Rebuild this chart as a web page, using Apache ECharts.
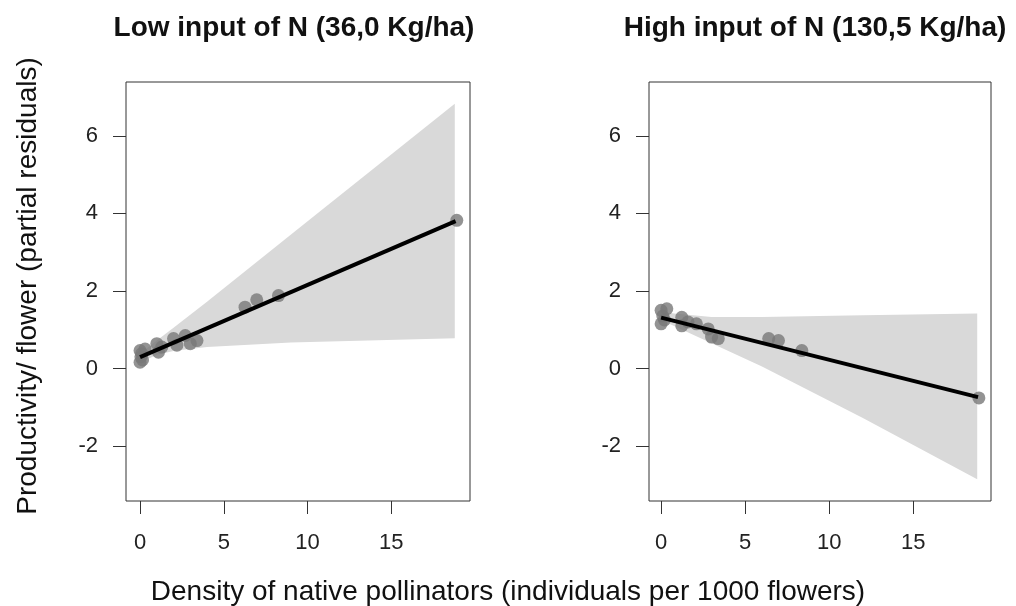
<!DOCTYPE html>
<html><head><meta charset="utf-8">
<script src="https://cdn.jsdelivr.net/npm/echarts@6/dist/echarts.min.js"></script>
<style>html,body{margin:0;padding:0;background:#fff}#c{width:1016px;height:606px}</style>
</head><body><div id="c"></div>
<script>
// ---- data ----
const panelTitles = ['Low input of N (36,0 Kg/ha)', 'High input of N (130,5 Kg/ha)'];
const xTitle = 'Density of native pollinators (individuals per 1000 flowers)';
const yTitle = 'Productivity/ flower (partial residuals)';
const xTicks = [0, 5, 10, 15];
const yTicks = [-2, 0, 2, 4, 6];

const lowPoints = [[0,0.46],[0,0.16],[0.05,0.3],[0.1,0.38],[0.3,0.5],[0.15,0.22],[1.0,0.64],[1.1,0.42],[1.3,0.55],[2.0,0.77],[2.2,0.6],[2.7,0.85],[3.0,0.64],[3.4,0.72],[6.27,1.58],[6.97,1.77],[8.27,1.88],[18.92,3.82]];
const lowFit = [[0,0.29],[18.85,3.8]];
const lowBandX = [0, 1, 2, 4, 9, 18.8];
const lowBandUpper = [0.38, 0.72, 1.05, 1.72, 3.45, 6.83];
const lowBandLower = [0.15, 0.35, 0.45, 0.55, 0.67, 0.78];

const highPoints = [[0,1.5],[0,1.15],[0.1,1.35],[0.34,1.54],[0.2,1.25],[1.23,1.32],[1.23,1.1],[1.6,1.2],[2.1,1.15],[2.8,1.02],[3.0,0.81],[3.4,0.77],[6.4,0.77],[6.98,0.72],[8.37,0.46],[18.9,-0.76]];
const highFit = [[0,1.31],[18.85,-0.74]];
const highBandX = [0, 3, 6, 12, 18.8];
const highBandUpper = [1.45, 1.33, 1.33, 1.37, 1.42];
const highBandLower = [1.25, 0.65, 0.05, -1.28, -2.86];

// ---- chart ----
const FONT = '"Liberation Sans", Arial, sans-serif';
const chart = echarts.init(document.getElementById('c'));

function bandSeries(idx, bx, up, lo) {
  return {
    type: 'custom', xAxisIndex: idx, yAxisIndex: idx, z: 1, silent: true,
    data: [0],
    renderItem: function (params, api) {
      const pts = [];
      for (let i = 0; i < bx.length; i++) pts.push(api.coord([bx[i], up[i]]));
      for (let i = bx.length - 1; i >= 0; i--) pts.push(api.coord([bx[i], lo[i]]));
      return { type: 'polygon', shape: { points: pts }, style: { fill: '#d9d9d9' } };
    }
  };
}
function xAxis(idx, min, max) {
  return {
    type: 'value', gridIndex: idx, min: min, max: max,
    splitLine: { show: false },
    axisLine: { show: false, onZero: false },
    axisTick: { show: true, length: 13, lineStyle: { color: '#333', width: 1 }, customValues: xTicks },
    axisLabel: { customValues: xTicks, margin: 31, fontSize: 22, color: '#222', fontFamily: FONT }
  };
}
function yAxis(idx) {
  return {
    type: 'value', gridIndex: idx, min: -3.42, max: 7.39,
    splitLine: { show: false },
    axisLine: { show: false, onZero: false },
    axisTick: { show: true, length: 13, lineStyle: { color: '#333', width: 1 }, customValues: yTicks },
    axisLabel: { customValues: yTicks, margin: 28, fontSize: 22, color: '#222', fontFamily: FONT }
  };
}

const option = {
  backgroundColor: '#fff',
  animation: false,
  grid: [
    { left: 126, top: 82, width: 344, height: 419, show: true, borderColor: '#333', borderWidth: 1, backgroundColor: 'transparent' },
    { left: 649, top: 82, width: 342, height: 419, show: true, borderColor: '#333', borderWidth: 1, backgroundColor: 'transparent' }
  ],
  xAxis: [xAxis(0, -0.84, 19.71), xAxis(1, -0.72, 19.62)],
  yAxis: [yAxis(0), yAxis(1)],
  series: [
    bandSeries(0, lowBandX, lowBandUpper, lowBandLower),
    bandSeries(1, highBandX, highBandUpper, highBandLower),
    { type: 'scatter', xAxisIndex: 0, yAxisIndex: 0, z: 2, data: lowPoints, symbolSize: 13, itemStyle: { color: '#787878' }, silent: true },
    { type: 'scatter', xAxisIndex: 1, yAxisIndex: 1, z: 2, data: highPoints, symbolSize: 13, itemStyle: { color: '#787878' }, silent: true },
    { type: 'line', xAxisIndex: 0, yAxisIndex: 0, z: 3, data: lowFit, showSymbol: false, lineStyle: { color: '#000', width: 4 }, silent: true },
    { type: 'line', xAxisIndex: 1, yAxisIndex: 1, z: 3, data: highFit, showSymbol: false, lineStyle: { color: '#000', width: 4 }, silent: true }
  ],
  graphic: [
    { type: 'text', style: { x: 294, y: 28.5, text: panelTitles[0], font: 'bold 28px ' + FONT, fill: '#111', align: 'center', verticalAlign: 'middle' } },
    { type: 'text', style: { x: 815, y: 28.5, text: panelTitles[1], font: 'bold 28px ' + FONT, fill: '#111', align: 'center', verticalAlign: 'middle' } },
    { type: 'text', style: { x: 508, y: 592.5, text: xTitle, font: '28px ' + FONT, fill: '#111', align: 'center', verticalAlign: 'middle' } },
    { type: 'text', x: 28, y: 286, rotation: Math.PI / 2, style: { x: 0, y: 0, text: yTitle, font: '28px ' + FONT, fill: '#111', align: 'center', verticalAlign: 'middle' } }
  ]
};
chart.setOption(option);
</script>
</body></html>
